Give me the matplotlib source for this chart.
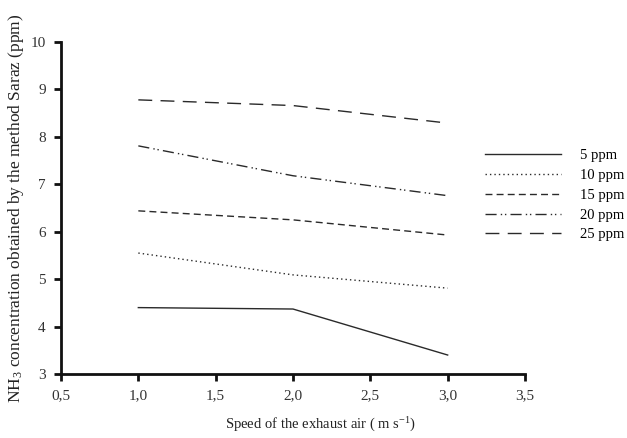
import matplotlib
matplotlib.use("Agg")
import matplotlib.pyplot as plt

plt.rcParams['font.family'] = ['Liberation Serif', 'DejaVu Serif']
plt.rcParams['mathtext.fontset'] = 'custom'
plt.rcParams['mathtext.rm'] = 'Liberation Serif'
plt.rcParams['mathtext.it'] = 'Liberation Serif:italic'

speed = [1.0, 2.0, 3.0]
series_labels = ["5 ppm", "10 ppm", "15 ppm", "20 ppm", "25 ppm"]
ppm5 = [4.40, 4.37, 3.40]
ppm10 = [5.55, 5.09, 4.81]
ppm15 = [6.44, 6.25, 5.93]
ppm20 = [7.81, 7.18, 6.76]
ppm25 = [8.78, 8.66, 8.29]
xticks = [0.5, 1.0, 1.5, 2.0, 2.5, 3.0, 3.5]
xticklabels = ["0,5", "1,0", "1,5", "2,0", "2,5", "3,0", "3,5"]
yticks = [3, 4, 5, 6, 7, 8, 9, 10]

styles = [
    '-',
    (0, (1, 2.2)),
    (0, (5, 3)),
    (0, (8, 3, 1, 2, 1, 3)),
    (0, (10, 6)),
]
col = '#2a2a2a'

fig = plt.figure(figsize=(6.27, 4.38), dpi=100)
ax = fig.add_axes([61/627, 1-374/438, (525-61)/627, (374-42)/438])

handles = []
for vals, ls, lab in zip([ppm5, ppm10, ppm15, ppm20, ppm25], styles, series_labels):
    l, = ax.plot(speed, vals, color=col, lw=1.0, linestyle=ls, label=lab)
    handles.append(l)

ax.set_xlim(0.5, 3.5)
ax.set_ylim(3, 10)
ax.set_xticks(xticks)
ax.set_xticklabels(xticklabels)
ax.set_yticks(yticks)
for s in ['top', 'right']:
    ax.spines[s].set_visible(False)
for s in ['left', 'bottom']:
    ax.spines[s].set_linewidth(2)
    ax.spines[s].set_color('#111111')
ax.tick_params(axis='both', direction='out', length=5, width=2, color='#111111',
               labelsize=11, labelcolor='#333333', pad=6)

ax.set_xlabel("Speed of the exhaust air ( m s$^{\\mathregular{-1}}$)", fontsize=10.5, color='#222222')
ax.xaxis.set_label_coords((321-61)/464, (374-416)/332)
ax.set_ylabel("NH$_{\\mathregular{3}}$ concentration obtained by the method Saraz (ppm)", fontsize=12.5,
              color='#222222')
ax.yaxis.set_label_coords((26-61)/464, 0.5)

fig.legend(handles=handles, labels=series_labels, loc='upper left',
           bbox_to_anchor=(472/627, 1-136/438), frameon=False, fontsize=10.5,
           handlelength=5.2, handletextpad=1.3, labelspacing=0.45)

fig.savefig("out.png", dpi=100)
